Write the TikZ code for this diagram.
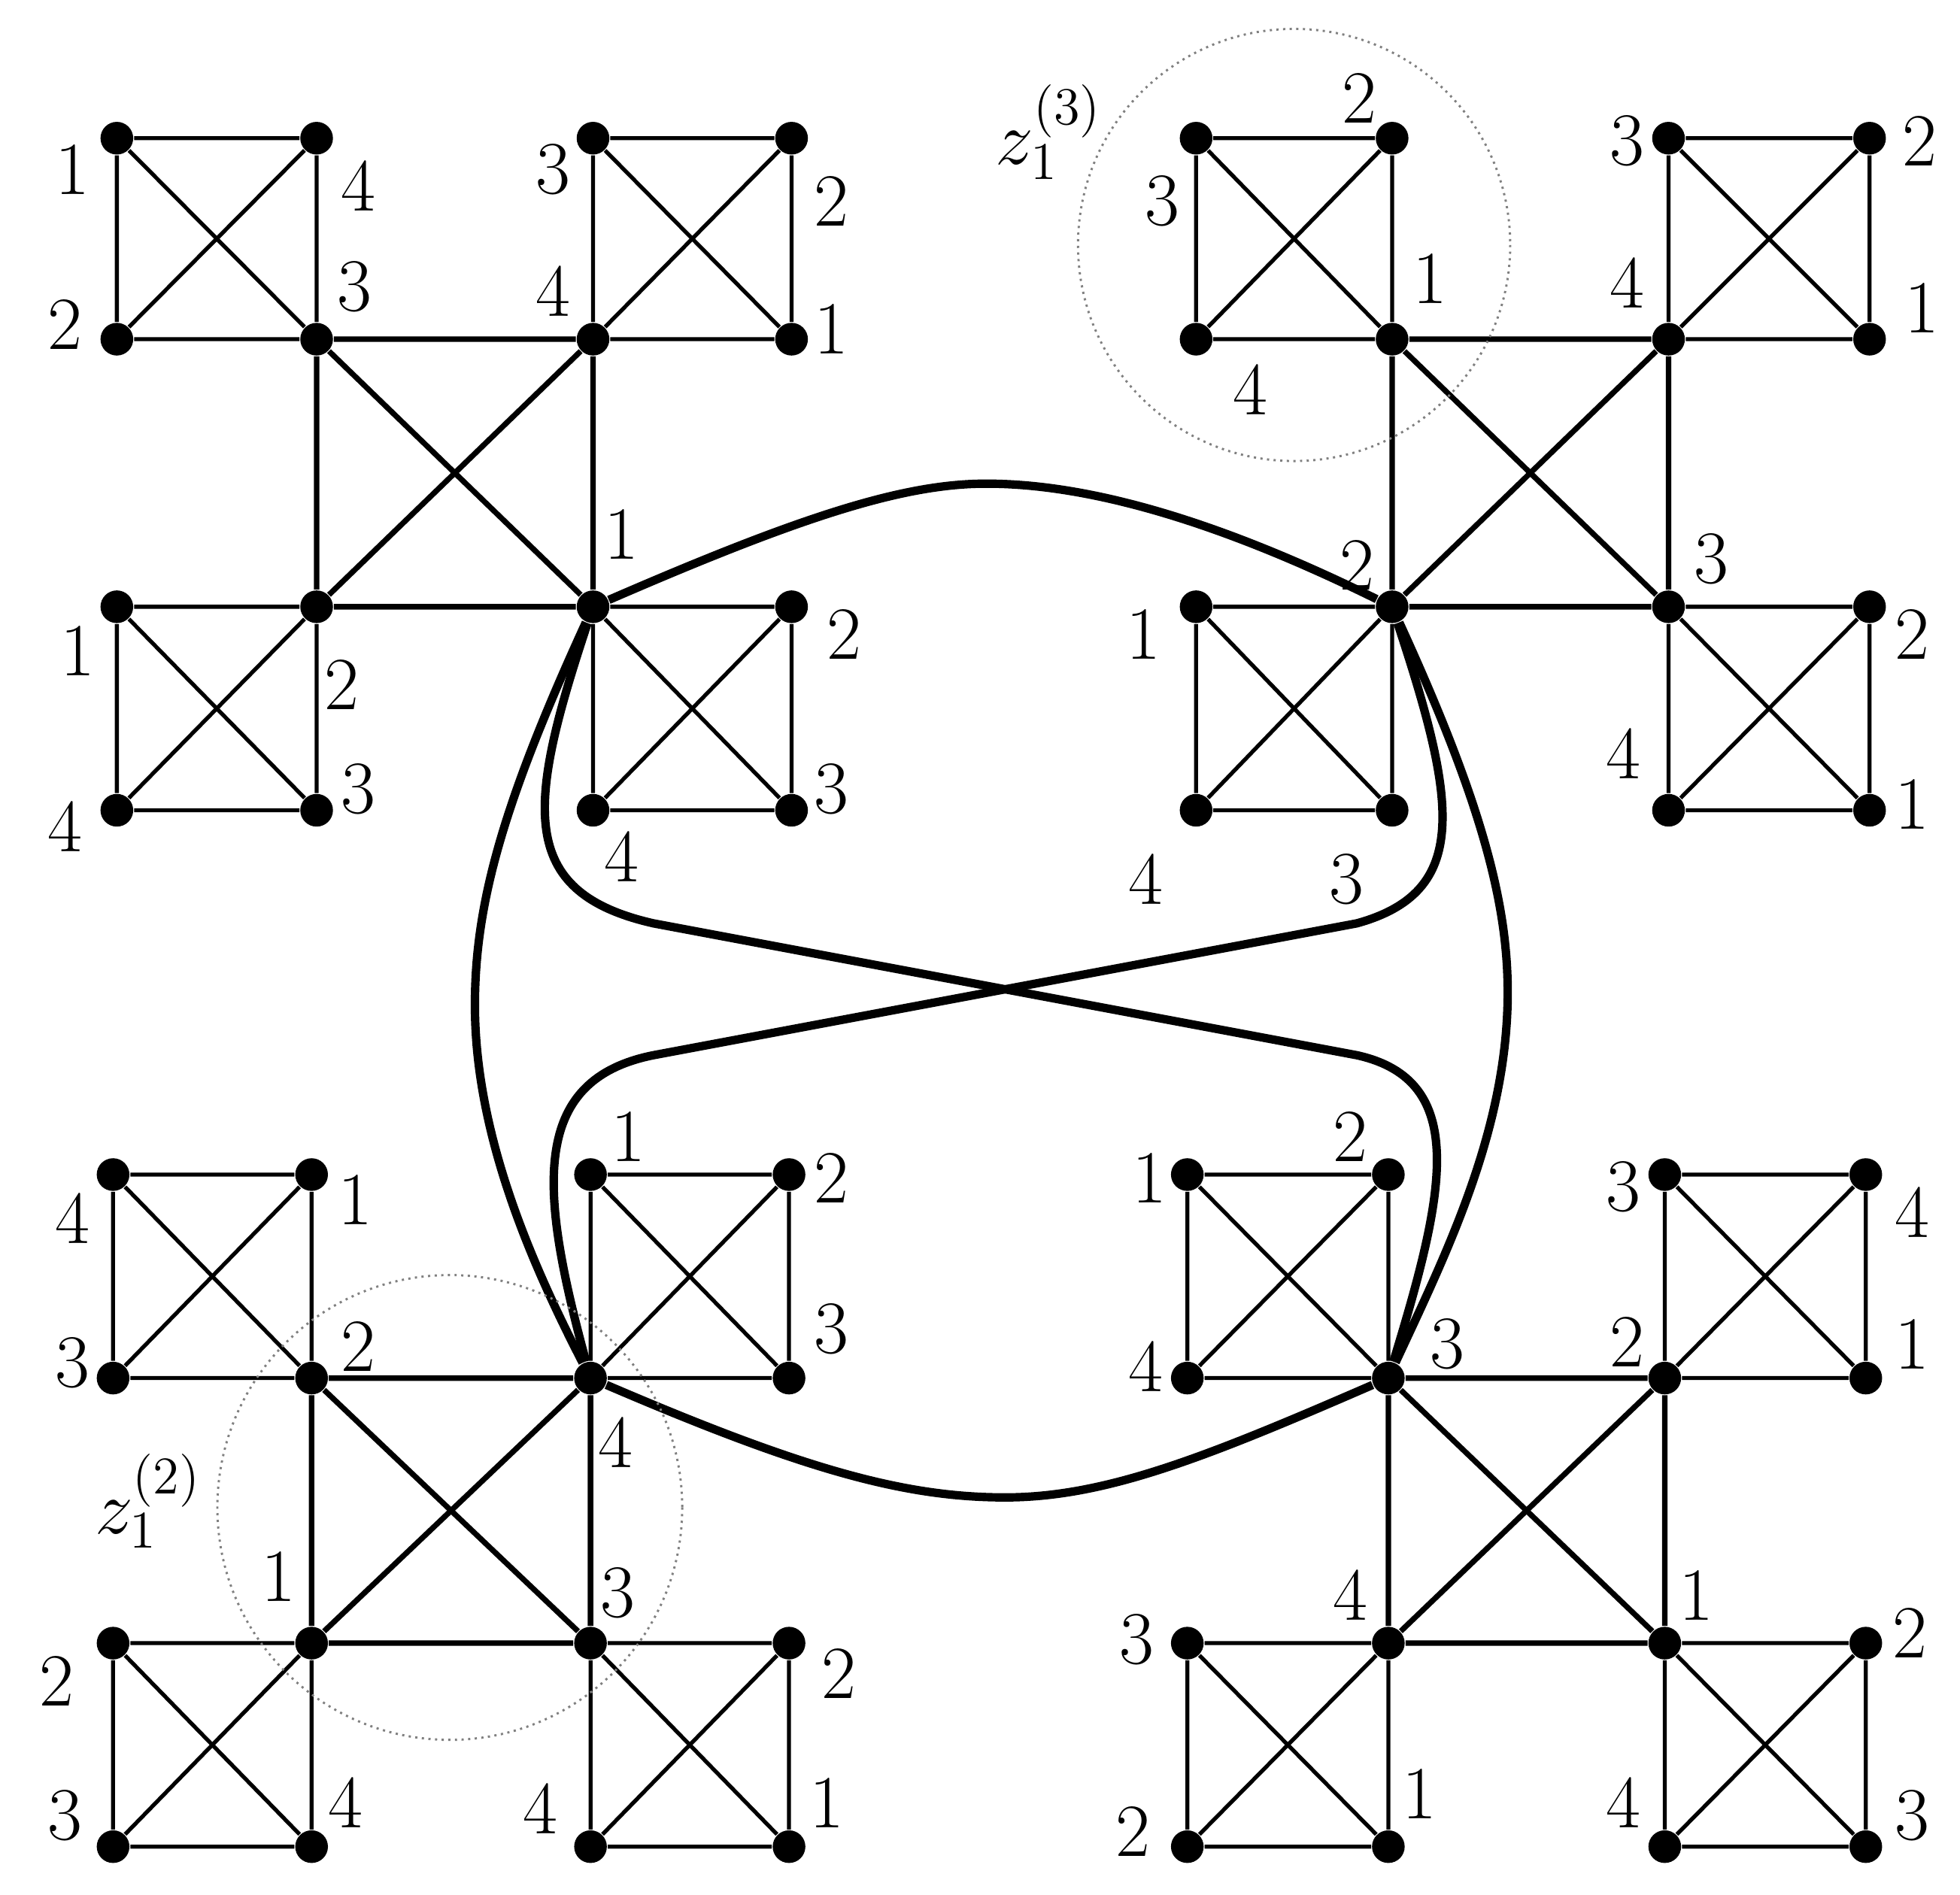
\documentclass[tikz,border=0pt]{standalone}
\begin{document}
\begin{tikzpicture}[x=0.01cm,y=-0.01cm,
 dot/.style={circle,fill=black,inner sep=0pt,minimum size=0.26cm},
 thinedge/.style={line width=0.9pt},
 bigedge/.style={line width=1.25pt},
 curve/.style={line width=1.9pt},
 lab/.style={font=\fontsize{17}{17}\selectfont,inner sep=0pt},
 ring/.style={densely dotted,gray,line width=0.5pt}]
\useasboundingbox (0,0) rectangle (1560,1508);
\newcommand\kq[5]{%
 \node[dot] (#1a) at (#2,#3) {}; \node[dot] (#1b) at (#4,#3) {};
 \node[dot] (#1c) at (#2,#5) {}; \node[dot] (#1d) at (#4,#5) {};
 \draw[thinedge] (#1a)--(#1b)--(#1d)--(#1c)--(#1a)--(#1d) (#1b)--(#1c);}
\newcommand\bigsq[1]{%
 \draw[bigedge] (#11d)--(#12c)--(#14a)--(#13b)--(#11d)--(#14a) (#12c)--(#13b);}
% cluster A
\kq{A1}{93}{110}{252}{270}\kq{A2}{472}{110}{630}{270}
\kq{A3}{93}{483}{252}{645}\kq{A4}{472}{483}{630}{645}\bigsq{A}
% cluster B
\kq{B1}{952}{110}{1108}{270}\kq{B2}{1328}{110}{1488}{270}
\kq{B3}{952}{483}{1108}{645}\kq{B4}{1328}{483}{1488}{645}\bigsq{B}
% cluster C
\kq{C1}{90}{935}{248}{1097}\kq{C2}{470}{935}{628}{1097}
\kq{C3}{90}{1308}{248}{1470}\kq{C4}{470}{1308}{628}{1470}\bigsq{C}
% cluster D
\kq{D1}{945}{935}{1105}{1097}\kq{D2}{1325}{935}{1485}{1097}
\kq{D3}{945}{1308}{1105}{1470}\kq{D4}{1325}{1308}{1485}{1470}\bigsq{D}
% curves
\draw[curve] (A4a) .. controls (640,410) and (720,385) .. (785,385) .. controls (860,385) and (960,410) .. (B3b);
\draw[curve] (C2c) .. controls (640,1170) and (720,1192) .. (800,1192) .. controls (880,1192) and (960,1160) .. (D1d);
\draw[curve] (A4a) .. controls (400,640) and (378,720) .. (378,800) .. controls (378,900) and (420,1000) .. (C2c);
\draw[curve] (B3b) .. controls (1180,640) and (1200,720) .. (1200,790) .. controls (1200,900) and (1150,1000) .. (D1d);
\draw[curve] (A4a) .. controls (420,640) and (410,710) .. (520,735) -- (1080,840) .. controls (1170,860) and (1150,950) .. (D1d);
\draw[curve] (B3b) .. controls (1160,640) and (1170,710) .. (1080,735) -- (520,840) .. controls (420,860) and (430,950) .. (C2c);
% rings
\draw[ring] (1030,195) circle (172);
\draw[ring] (358,1200) circle (185);
\node[lab] at (835,105) {$z_1^{(3)}$};
\node[lab] at (118,1195) {$z_1^{(2)}$};
% labels A
\foreach \t/\x/\y in {1/58/135,4/285/148,2/52/258,3/282/228,
 3/440/135,2/662/160,4/440/232,1/662/262,
 1/62/518,2/272/545,4/52/658,3/285/628,
 1/495/425,2/672/505,4/495/682,3/662/628,
 2/1082/78,3/925/160,1/1138/222,4/995/310,
 3/1295/112,2/1528/112,4/1295/225,1/1530/245,
 1/910/505,2/1080/450,4/912/700,3/1072/700,
 3/1362/445,2/1522/505,4/1292/600,1/1522/640,
 4/58/970,1/283/955,3/58/1085,2/285/1072,
 1/500/905,2/662/938,3/662/1058,4/490/1148,
 1/222/1255,2/45/1338,3/52/1445,4/275/1435,
 3/492/1268,2/668/1332,4/430/1440,1/658/1435,
 1/915/938,2/1075/905,4/912/1088,3/1152/1070,
 3/1292/945,4/1522/965,2/1295/1068,1/1522/1070,
 4/1075/1270,3/905/1305,2/902/1458,1/1130/1428,
 1/1350/1270,2/1520/1300,4/1292/1435,3/1522/1445}
 \node[lab] at (\x,\y) {\t};
\end{tikzpicture}
\end{document}
